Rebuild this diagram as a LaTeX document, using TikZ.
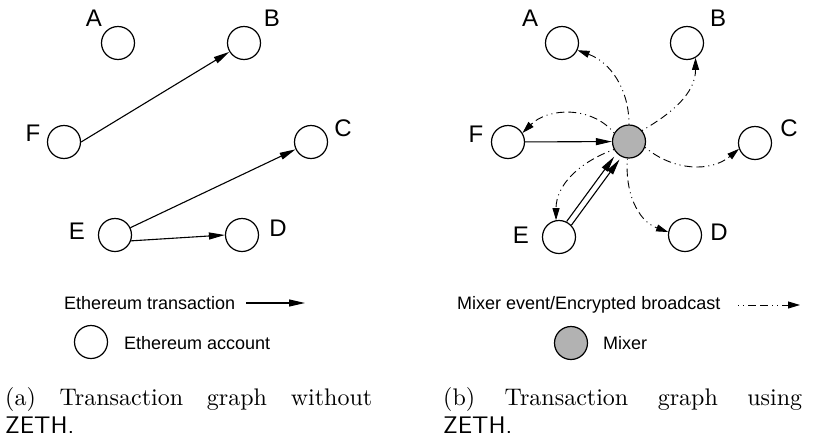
\documentclass[tikz,border=0pt]{standalone}
\usepackage{fontspec}
\newfontfamily\lsans{Liberation Sans}
\newfontfamily\capfont{lmroman10-regular.otf}
\newfontfamily\capsans{lmsans10-regular.otf}
\usetikzlibrary{arrows.meta}
\begin{document}
\begin{tikzpicture}[x=1pt,y=-1pt,
  acct/.style={circle, draw, line width=1.2pt, minimum size=33pt, inner sep=0pt},
  mixer/.style={acct, fill=black!30},
  lbl/.style={font=\lsans\fontsize{24}{24}\selectfont, inner sep=0pt},
  legend/.style={font=\lsans\fontsize{18}{18}\selectfont, inner sep=0pt, anchor=west},
  captext/.style={font=\capfont\fontsize{24}{28}\selectfont, inner sep=0pt, anchor=base west},
  tx/.style={line width=1.1pt, -{Triangle[length=16pt,width=7pt]}},
  mix/.style={line width=0.9pt, dash pattern=on 1pt off 4pt on 1pt off 4pt on 8pt off 4pt on 8pt off 4pt,
              -{Triangle[length=12pt,width=7pt]}}]
\useasboundingbox (0,0) rectangle (815,437);

% ---------- panel (a) ----------
\node[acct] (a1) at (118,43) {};
\node[acct] (b1) at (244,43) {};
\node[acct] (f1) at (64,142) {};
\node[acct] (c1) at (311,142) {};
\node[acct] (e1) at (115,235) {};
\node[acct] (d1) at (242,235) {};
\node[lbl] (la1) at (94,18) {A};
\node[lbl] (lb1) at (272,18) {B};
\node[lbl] (lf1) at (33,133) {F};
\node[lbl] (lc1) at (343,128) {C};
\node[lbl] (le1) at (77,231) {E};
\node[lbl] (ld1) at (278,228) {D};
\draw[tx] (f1.east) -- (b1);
\draw[tx] (e1) -- (c1);
\draw[tx] (e1.-20) -- (d1.west);

% legend (a)
\node[legend] (lgt1) at (64,303) {Ethereum transaction};
\coordinate (lgs1) at (246,303);
\coordinate (lge1) at (305,303);
\draw[tx] (lgs1) -- (lge1);
\node[acct] (lgc1) at (91,342) {};
\node[legend] (lga1) at (124,343) {Ethereum account};

% caption (a)
\node[captext] (capa) at (5,405) {\makebox[367pt][s]{(a) Transaction graph without}};
\node[captext] (capa2) at (5,433) {\capsans ZETH.};

% ---------- panel (b) ----------
\node[acct] (a2) at (562,43) {};
\node[acct] (b2) at (687,43) {};
\node[acct] (f2) at (508,142) {};
\node[acct] (c2) at (755,143) {};
\node[acct] (e2) at (559,237) {};
\node[acct] (d2) at (685,235) {};
\node[mixer] (m2) at (629,141.5) {};
\node[lbl] (la2) at (530,18) {A};
\node[lbl] (lb2) at (718,18) {B};
\node[lbl] (lf2) at (476,134) {F};
\node[lbl] (lc2) at (789,128) {C};
\node[lbl] (le2) at (521,235) {E};
\node[lbl] (ld2) at (719,232) {D};

\draw[tx] (f2) -- (m2);
\draw[tx, shorten <=17pt, shorten >=21pt] ([shift={(-2.4,-1.8)}]e2.center) -- ([shift={(-2.4,-1.8)}]m2.center);
\draw[tx, shorten <=17pt, shorten >=20pt] ([shift={(2.4,1.8)}]e2.center) -- ([shift={(2.4,1.8)}]m2.center);

\draw[mix] (m2.north) to[out=90, in=-20] (a2.-25);
\draw[mix] (m2.40) to[out=30, in=-90] (b2.-60);
\draw[mix] (m2.150) to[out=130, in=45] (f2.32);
\draw[mix] (m2.-20) to[out=-40, in=220] (c2.200);
\draw[mix] (m2.-95) to[out=-95, in=160] (d2.170);
\draw[mix] (m2.208) to[out=200, in=90] (e2.100);

% legend (b)
\node[legend] (lgt2) at (457,305) {Mixer event/Encrypted broadcast};
\coordinate (lgs2) at (738,305);
\coordinate (lge2) at (800,305);
\draw[mix] (lgs2) -- (lge2);
\node[mixer] (lgc2) at (571,343) {};
\node[legend] (lgm2) at (603,343) {Mixer};

% caption (b)
\node[captext] (capb) at (443,405) {\makebox[359pt][s]{(b) Transaction graph using}};
\node[captext] (capb2) at (443,433) {\capsans ZETH.};
\end{tikzpicture}
\end{document}
